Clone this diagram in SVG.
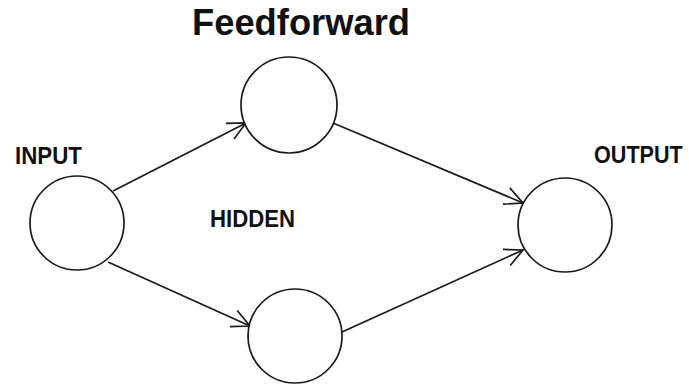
<svg xmlns="http://www.w3.org/2000/svg" width="689" height="385" viewBox="0 0 689 385">
  <style>
    .node { fill: #ffffff; stroke: #1a1a1a; stroke-width: 1.7; }
    .edge { fill: none; stroke: #1a1a1a; stroke-width: 1.7; }
    .label { font-family: "Liberation Sans", Arial, sans-serif; font-weight: bold; fill: #111111; }
  </style>
  <defs>
    <marker id="arrow" markerUnits="userSpaceOnUse" markerWidth="24" markerHeight="24" viewBox="-22 -12 24 24" refX="0" refY="0" orient="auto">
      <path d="M -18 -8.8 L 0 0 L -18 8.8" fill="none" stroke="#1a1a1a" stroke-width="1.7"/>
    </marker>
  </defs>
  <rect width="689" height="385" fill="#ffffff"/>

  <text class="label" x="192" y="35" font-size="36" textLength="218" lengthAdjust="spacingAndGlyphs">Feedforward</text>

  <!-- connectors -->
  <g id="connectors">
    <line class="edge" x1="113" y1="191" x2="246" y2="123" marker-end="url(#arrow)"/>
    <line class="edge" x1="108" y1="262" x2="250" y2="326" marker-end="url(#arrow)"/>
    <line class="edge" x1="333" y1="123" x2="523" y2="203" marker-end="url(#arrow)"/>
    <line class="edge" x1="342" y1="332" x2="523" y2="250" marker-end="url(#arrow)"/>
  </g>

  <g id="input">
    <circle class="node" cx="77" cy="223" r="47"/>
    <text class="label" x="15" y="164" font-size="24" textLength="67" lengthAdjust="spacingAndGlyphs">INPUT</text>
  </g>
  <g id="hidden-top">
    <circle class="node" cx="289" cy="105" r="48"/>
  </g>
  <g id="hidden-bottom">
    <circle class="node" cx="295" cy="336" r="47"/>
  </g>
  <text id="hidden-label" class="label" x="210" y="227" font-size="24" textLength="85" lengthAdjust="spacingAndGlyphs">HIDDEN</text>
  <g id="output">
    <circle class="node" cx="565" cy="225" r="47"/>
    <!-- narrowed horizontally so the label stays inside the right edge -->
    <text class="label" transform="translate(594 163) scale(0.9 1)" x="0" y="0" font-size="24">OUTPUT</text>
  </g>
</svg>
